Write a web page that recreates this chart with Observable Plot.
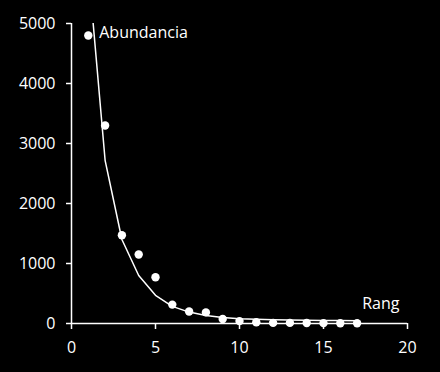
<!DOCTYPE html>
<html>
<head>
<meta charset="utf-8">
<script src="https://cdn.jsdelivr.net/npm/d3@7"></script>
<script src="https://cdn.jsdelivr.net/npm/@observablehq/plot@0.6"></script>
<style>
  html, body { margin: 0; padding: 0; background: #000; }
  #chart svg { display: block; }
</style>
</head>
<body>
<div id="chart"></div>
<script>
// Observed abundance by rank
const rank = [1, 2, 3, 4, 5, 6, 7, 8, 9, 10, 11, 12, 13, 14, 15, 16, 17];
const abundance = [4800, 3300, 1470, 1150, 770, 315, 200, 185, 75, 40, 20, 10, 10, 8, 6, 5, 4];
// Fitted model curve
const fitted = [5930, 2720, 1400, 800, 470, 285, 190, 135, 100, 80, 70, 62, 57, 53, 50, 48, 46];
// Axis ticks
const xTicks = [0, 5, 10, 15, 20];
const yTicks = [0, 1000, 2000, 3000, 4000, 5000];
// Axis titles
const labels = [
  {text: "Abundancia", x: 1.65, y: 4850},
  {text: "Rang", x: 17.3, y: 335}
];

const points = rank.map((r, i) => ({x: r, y: abundance[i]}));
const curve = rank.map((r, i) => ({x: r, y: fitted[i]}));

const font = "'Open Sans', sans-serif";

const chart = Plot.plot({
  width: 440,
  height: 372,
  marginLeft: 71,
  marginRight: 33,
  marginTop: 23,
  marginBottom: 49,
  style: {background: "#000", color: "#fff", fontFamily: font, fontSize: "16px"},
  x: {domain: [0, 20], ticks: xTicks},
  y: {domain: [0, 5000], ticks: yTicks},
  marks: [
    Plot.axisX({ticks: xTicks, tickSize: 6, tickPadding: 12, stroke: "#fff", strokeOpacity: 1, strokeWidth: 1.5, fill: "#fff", fontSize: 16, label: null, tickFormat: d => String(d)}),
    Plot.axisY({ticks: yTicks, tickSize: 5, tickPadding: 11, stroke: "#fff", strokeOpacity: 1, strokeWidth: 1.5, fill: "#fff", fontSize: 16, label: null, tickFormat: d => String(d)}),
    Plot.ruleY([0], {stroke: "#fff", strokeWidth: 1.5}),
    Plot.ruleX([0], {stroke: "#fff", strokeWidth: 1.5}),
    Plot.line(curve, {x: "x", y: "y", stroke: "#fff", strokeWidth: 1.5, clip: true}),
    Plot.dot(points, {x: "x", y: "y", r: 4.2, fill: "#fff", stroke: "none"}),
    Plot.text(labels, {x: "x", y: "y", text: "text", textAnchor: "start", fill: "#fff", fontSize: 16})
  ]
});

document.getElementById("chart").appendChild(chart);
</script>
</body>
</html>
